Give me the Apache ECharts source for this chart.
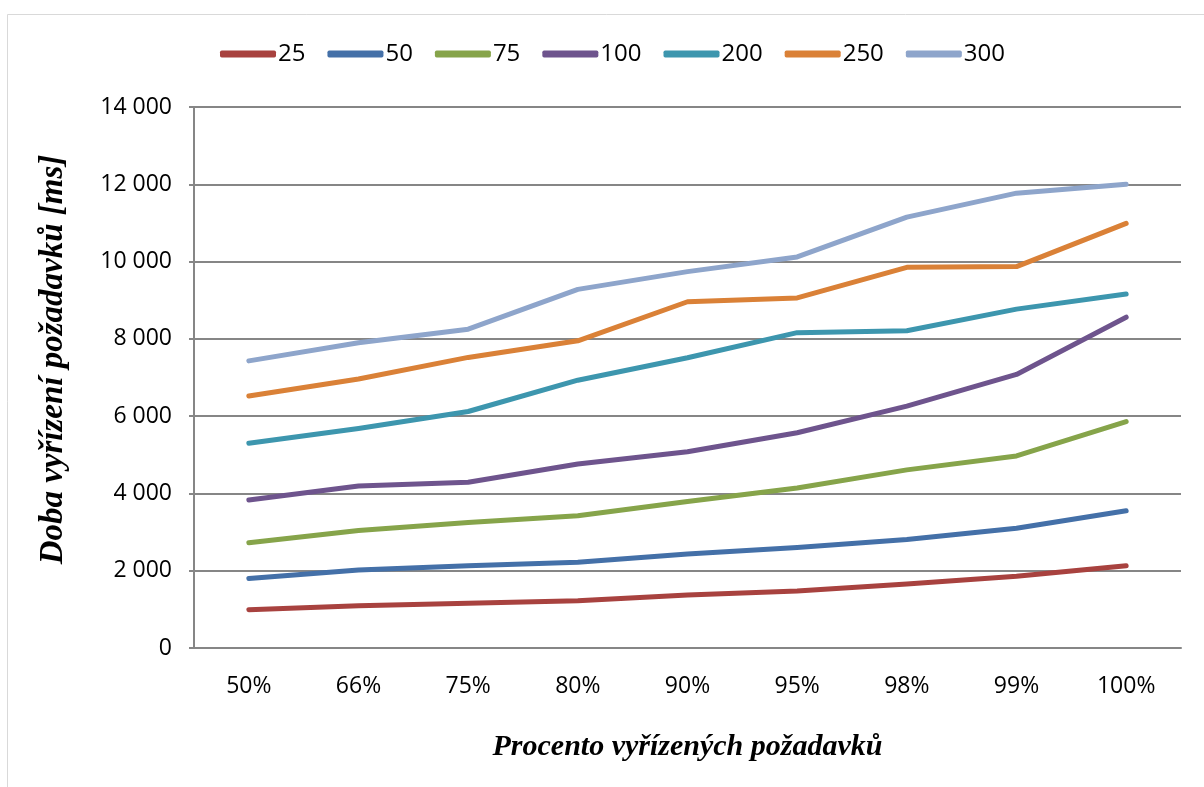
<!DOCTYPE html>
<html>
<head>
<meta charset="utf-8">
<script src="https://cdn.jsdelivr.net/npm/echarts@6/dist/echarts.min.js"></script>
<style>
html,body{margin:0;padding:0;background:#fff;}
#c{width:1204px;height:787px;}
</style>
</head>
<body>
<div id="c"></div>
<script>
const categories = ['50%','66%','75%','80%','90%','95%','98%','99%','100%'];
const seriesNames = ['25','50','75','100','200','250','300'];
const s25  = [990, 1095, 1155, 1225, 1370, 1475, 1655, 1855, 2130];
const s50  = [1800, 2020, 2130, 2220, 2430, 2600, 2810, 3100, 3550];
const s75  = [2725, 3040, 3250, 3425, 3790, 4140, 4610, 4970, 5860];
const s100 = [3830, 4190, 4290, 4760, 5080, 5570, 6260, 7080, 8560];
const s200 = [5300, 5680, 6120, 6930, 7510, 8160, 8210, 8770, 9160];
const s250 = [6520, 6960, 7520, 7950, 8960, 9060, 9850, 9870, 10990];
const s300 = [7430, 7900, 8250, 9280, 9740, 10120, 11150, 11770, 12000];
const seriesData = [s25, s50, s75, s100, s200, s250, s300];
const colors = ['#A8423F','#4470A8','#86A44A','#6E548D','#3D96AE','#DA8137','#8EA5CB'];
const yTicks = {min: 0, max: 14000, interval: 2000};
const xTitle = 'Procento vyřízených požadavků';
const yTitle = 'Doba vyřízení požadavků [ms]';

const chart = echarts.init(document.getElementById('c'), null, {renderer: 'canvas'});
const labelFont = '"Open Sans", sans-serif';
const titleFont = '"Liberation Serif", "Times New Roman", serif';

chart.setOption({
  animation: false,
  backgroundColor: '#fff',
  color: colors,
  graphic: [{
    type: 'rect', left: 5, top: 12, shape: {width: 1220, height: 800},
    style: {fill: 'none', stroke: '#d9d9d9', lineWidth: 1}, silent: true
  }],
  legend: {
    left: 215, top: 37,
    itemWidth: 56, itemHeight: 7, itemGap: 22,
    icon: 'roundRect',
    textStyle: {fontFamily: labelFont, fontSize: 24, color: '#000', padding: [0,0,0,-3]},
    data: seriesNames
  },
  grid: {left: 194, right: 23, top: 107, bottom: 139, containLabel: false},
  xAxis: {
    type: 'category', data: categories, boundaryGap: true,
    name: xTitle, nameLocation: 'middle', nameGap: 84,
    nameTextStyle: {fontFamily: titleFont, fontStyle: 'italic', fontWeight: 'bold', fontSize: 30, color: '#000'},
    axisLine: {lineStyle: {color: '#868686', width: 2}},
    axisTick: {show: false},
    axisLabel: {fontFamily: labelFont, fontSize: 23, color: '#000', margin: 27}
  },
  yAxis: {
    type: 'value', min: yTicks.min, max: yTicks.max, interval: yTicks.interval,
    name: yTitle, nameLocation: 'middle', nameGap: 124,
    nameTextStyle: {fontFamily: titleFont, fontStyle: 'italic', fontWeight: 'bold', fontSize: 33, color: '#000', padding: [0, 0, 0, 36]},
    axisLine: {show: true, lineStyle: {color: '#868686', width: 2}},
    axisTick: {show: true, length: 5, lineStyle: {color: '#868686', width: 2}},
    splitLine: {lineStyle: {color: '#868686', width: 2}},
    axisLabel: {
      fontFamily: labelFont, fontSize: 23, color: '#000', margin: 22,
      formatter: v => String(v).replace(/\B(?=(\d{3})+(?!\d))/g, ' ')
    }
  },
  series: seriesNames.map((n, i) => ({
    name: n, type: 'line', data: seriesData[i],
    symbol: 'none', smooth: false,
    lineStyle: {width: 5, color: colors[i], cap: 'round', join: 'round'},
    itemStyle: {color: colors[i]}
  }))
});
</script>
</body>
</html>
